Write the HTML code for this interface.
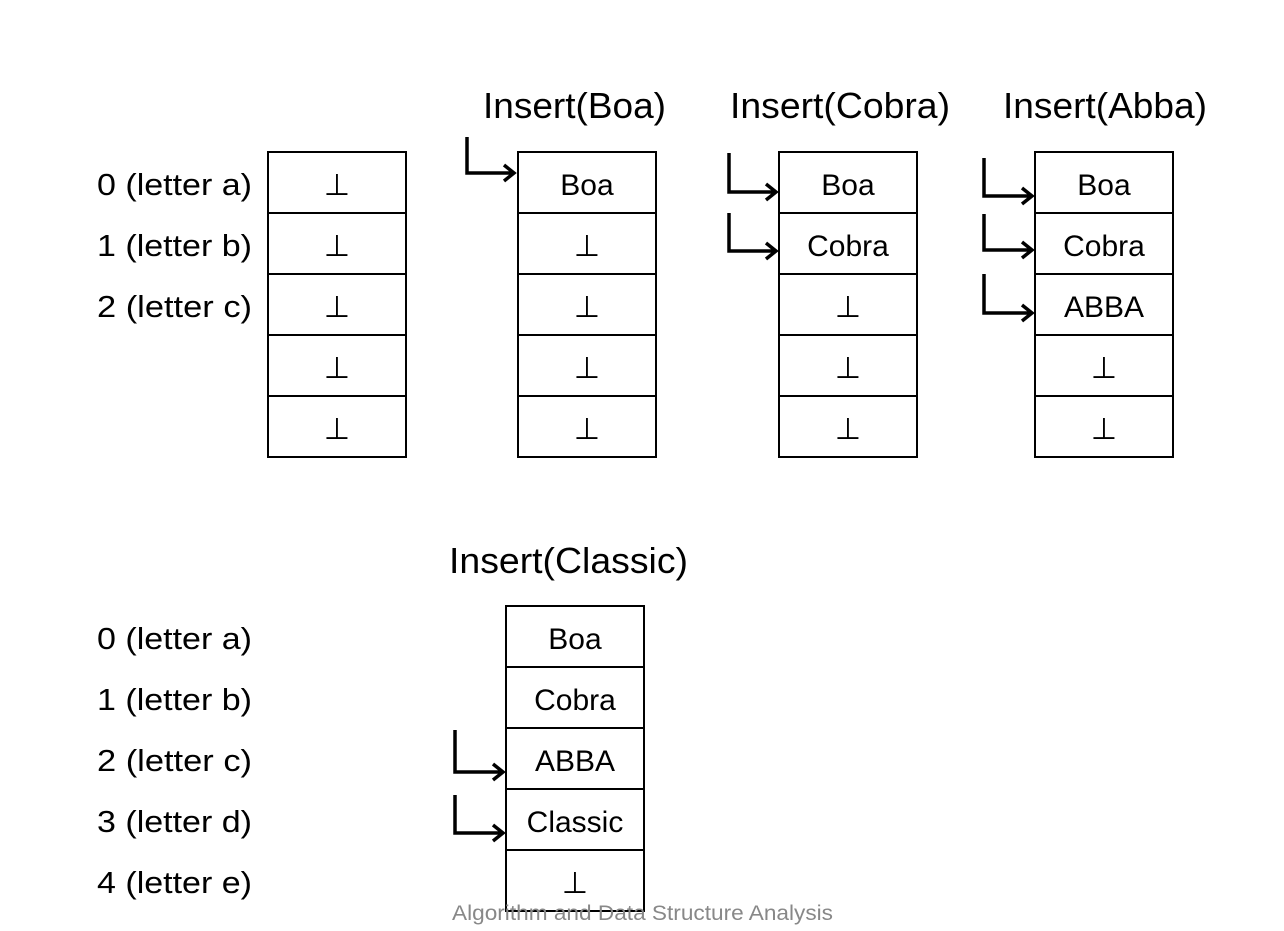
<!DOCTYPE html>
<html><head><style>html,body{margin:0;padding:0;background:#fff;}svg{display:block}</style></head>
<body>
<svg width="1284" height="931" viewBox="0 0 1284 931" xmlns="http://www.w3.org/2000/svg" font-family="Liberation Sans, sans-serif">
<defs>
<g id="t"><rect x="0" y="0" width="138" height="305" fill="none" stroke="#000" stroke-width="2"/>
<line x1="0" y1="61" x2="138" y2="61" stroke="#000" stroke-width="2"/>
<line x1="0" y1="122" x2="138" y2="122" stroke="#000" stroke-width="2"/>
<line x1="0" y1="183" x2="138" y2="183" stroke="#000" stroke-width="2"/>
<line x1="0" y1="244" x2="138" y2="244" stroke="#000" stroke-width="2"/></g>
</defs>
<g font-size="36" fill="#000">
<text x="483" y="118" textLength="183" lengthAdjust="spacingAndGlyphs">Insert(Boa)</text>
<text x="730" y="118" textLength="220" lengthAdjust="spacingAndGlyphs">Insert(Cobra)</text>
<text x="1003" y="118" textLength="204" lengthAdjust="spacingAndGlyphs">Insert(Abba)</text>
<text x="449" y="573" textLength="239" lengthAdjust="spacingAndGlyphs">Insert(Classic)</text>
</g>
<g font-size="31" fill="#000" lengthAdjust="spacingAndGlyphs">
<text x="97" y="195" textLength="155" lengthAdjust="spacingAndGlyphs">0 (letter a)</text>
<text x="97" y="256" textLength="155" lengthAdjust="spacingAndGlyphs">1 (letter b)</text>
<text x="97" y="317" textLength="155" lengthAdjust="spacingAndGlyphs">2 (letter c)</text>
<text x="97" y="649" textLength="155" lengthAdjust="spacingAndGlyphs">0 (letter a)</text>
<text x="97" y="710" textLength="155" lengthAdjust="spacingAndGlyphs">1 (letter b)</text>
<text x="97" y="771" textLength="155" lengthAdjust="spacingAndGlyphs">2 (letter c)</text>
<text x="97" y="832" textLength="155" lengthAdjust="spacingAndGlyphs">3 (letter d)</text>
<text x="97" y="893" textLength="155" lengthAdjust="spacingAndGlyphs">4 (letter e)</text>
</g>
<use href="#t" x="268" y="152"/>
<use href="#t" x="518" y="152"/>
<use href="#t" x="779" y="152"/>
<use href="#t" x="1035" y="152"/>
<use href="#t" x="506" y="606"/>
<g font-size="30" text-anchor="middle" fill="#000">
<text x="337" y="195">⊥</text><text x="337" y="256">⊥</text><text x="337" y="317">⊥</text><text x="337" y="378">⊥</text><text x="337" y="439">⊥</text>
<text x="587" y="195">Boa</text><text x="587" y="256">⊥</text><text x="587" y="317">⊥</text><text x="587" y="378">⊥</text><text x="587" y="439">⊥</text>
<text x="848" y="195">Boa</text><text x="848" y="256">Cobra</text><text x="848" y="317">⊥</text><text x="848" y="378">⊥</text><text x="848" y="439">⊥</text>
<text x="1104" y="195">Boa</text><text x="1104" y="256">Cobra</text><text x="1104" y="317">ABBA</text><text x="1104" y="378">⊥</text><text x="1104" y="439">⊥</text>
<text x="575" y="649">Boa</text><text x="575" y="710">Cobra</text><text x="575" y="771">ABBA</text><text x="575" y="832">Classic</text><text x="575" y="893">⊥</text>
</g>
<g fill="none" stroke="#000" stroke-width="3.5" stroke-linejoin="miter">
<path d="M467 137 V173 H513 M504 165 L514 173 L504 181"/>
<path d="M729 153 V192 H775 M766 184 L776 192 L766 200"/>
<path d="M729 213 V251 H775 M766 243 L776 251 L766 259"/>
<path d="M984 158 V196 H1031 M1022 188 L1032 196 L1022 204"/>
<path d="M984 214 V250 H1031 M1022 242 L1032 250 L1022 258"/>
<path d="M984 274 V313 H1031 M1022 305 L1032 313 L1022 321"/>
<path d="M455 730 V772 H502 M493 764 L503 772 L493 780"/>
<path d="M455 795 V833 H502 M493 825 L503 833 L493 841"/>
</g>
<text x="452" y="920" font-size="21" fill="#888" textLength="381" lengthAdjust="spacingAndGlyphs">Algorithm and Data Structure Analysis</text>
</svg>
</body></html>
